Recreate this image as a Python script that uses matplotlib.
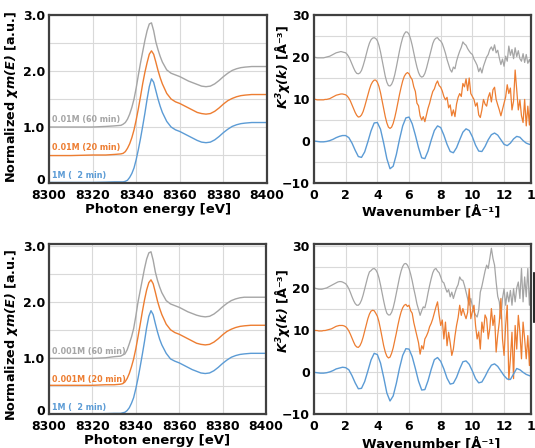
import numpy as np
import matplotlib
matplotlib.use("Agg")
import matplotlib.pyplot as plt
from matplotlib.lines import Line2D
from matplotlib.transforms import ScaledTranslation

plt.rcParams['font.family'] = ['DejaVu Sans']
plt.rcParams['font.weight'] = 'bold'
plt.rcParams['mathtext.fontset'] = 'dejavusans'

c_blue = '#5B9BD5'
c_orange = '#ED7D31'
c_gray = '#A5A5A5'

# XANES data (photon energy in eV)
energy = [8300, 8310, 8320, 8326, 8330,
          8333, 8334, 8335, 8336, 8337, 8338, 8339, 8340, 8341, 8342,
          8343, 8344, 8345, 8346, 8347, 8348, 8349, 8350, 8351, 8352,
          8354, 8356, 8358, 8360, 8362, 8364, 8366, 8368, 8370, 8372,
          8374, 8376, 8378, 8380, 8382, 8384, 8386, 8388, 8390, 8393, 8396, 8400]

xanes_top_blue = [0.01, 0.01, 0.01, 0.015, 0.02,
                  0.02, 0.02, 0.03, 0.05, 0.10, 0.17, 0.27, 0.42, 0.60, 0.80,
                  1.02, 1.25, 1.50, 1.72, 1.86, 1.80, 1.65, 1.50, 1.37, 1.26,
                  1.10, 1.00, 0.95, 0.92, 0.88, 0.84, 0.80, 0.76, 0.73, 0.72,
                  0.73, 0.77, 0.83, 0.90, 0.96, 1.01, 1.04, 1.06, 1.07, 1.08, 1.08, 1.08]
xanes_top_orange = [0.49, 0.49, 0.50, 0.50, 0.51,
                    0.52, 0.53, 0.56, 0.62, 0.70, 0.81, 0.95, 1.13, 1.33, 1.55,
                    1.78, 1.98, 2.15, 2.30, 2.36, 2.30, 2.16, 2.01, 1.88, 1.77,
                    1.60, 1.50, 1.45, 1.42, 1.38, 1.34, 1.30, 1.26, 1.24, 1.23,
                    1.24, 1.28, 1.34, 1.41, 1.47, 1.51, 1.54, 1.56, 1.57, 1.58, 1.58, 1.58]
xanes_top_gray = [1.00, 1.00, 1.00, 1.01, 1.02,
                  1.03, 1.05, 1.08, 1.14, 1.23, 1.35, 1.50, 1.70, 1.93, 2.15,
                  2.35, 2.55, 2.72, 2.84, 2.86, 2.72, 2.52, 2.38, 2.26, 2.16,
                  2.02, 1.96, 1.93, 1.90, 1.86, 1.82, 1.79, 1.76, 1.73, 1.72,
                  1.73, 1.77, 1.83, 1.90, 1.96, 2.01, 2.04, 2.06, 2.07, 2.08, 2.08, 2.08]

xanes_bot_blue = [0.01, 0.01, 0.01, 0.015, 0.02,
                  0.02, 0.03, 0.04, 0.07, 0.12, 0.20, 0.30, 0.46, 0.64, 0.85,
                  1.07, 1.30, 1.55, 1.75, 1.85, 1.78, 1.62, 1.47, 1.34, 1.24,
                  1.09, 0.99, 0.95, 0.92, 0.88, 0.84, 0.80, 0.77, 0.74, 0.73,
                  0.74, 0.78, 0.84, 0.91, 0.97, 1.02, 1.05, 1.07, 1.08, 1.09, 1.09, 1.09]
xanes_bot_orange = [0.52, 0.52, 0.52, 0.53, 0.53,
                    0.54, 0.55, 0.58, 0.64, 0.73, 0.85, 0.99, 1.17, 1.38, 1.60,
                    1.83, 2.04, 2.22, 2.35, 2.40, 2.33, 2.18, 2.02, 1.89, 1.78,
                    1.61, 1.51, 1.46, 1.43, 1.39, 1.35, 1.31, 1.27, 1.25, 1.24,
                    1.25, 1.29, 1.35, 1.42, 1.48, 1.52, 1.55, 1.57, 1.58, 1.59, 1.59, 1.59]
xanes_bot_gray = [1.00, 1.00, 1.00, 1.01, 1.03,
                  1.04, 1.06, 1.08, 1.15, 1.26, 1.38, 1.53, 1.75, 2.00, 2.20,
                  2.40, 2.60, 2.77, 2.88, 2.90, 2.75, 2.54, 2.39, 2.27, 2.17,
                  2.03, 1.97, 1.94, 1.91, 1.87, 1.83, 1.80, 1.77, 1.75, 1.74,
                  1.75, 1.79, 1.85, 1.92, 1.98, 2.03, 2.06, 2.08, 2.09, 2.09, 2.09, 2.09]

labels_top = ['0.01M (60 min)', '0.01M (20 min)', '1M (  2 min)']
labels_bot = ['0.001M (60 min)', '0.001M (20 min)', '1M (  2 min)']

# EXAFS data, k in 1/Angstrom
k_smooth = np.round(np.arange(0, 13.81, 0.2), 1)
k_fine = np.round(np.arange(0, 13.81, 0.1), 1)

exafs_top_blue = [0.0, -0.1, -0.2, -0.2, -0.1, 0.1, 0.4, 0.8, 1.1, 1.3,
                  1.3, 0.8, -0.5, -2.2, -3.7, -3.9, -2.6, -0.2, 2.4, 4.3,
                  4.4, 2.8, -0.5, -4.2, -6.6, -6.0, -3.2, 0.4, 3.6, 5.5,
                  5.7, 4.1, 1.4, -1.6, -4.0, -4.2, -2.4, 0.2, 2.5, 3.6,
                  3.2, 1.4, -0.8, -2.5, -2.8, -1.6, 0.3, 2.1, 2.9, 2.5,
                  1.0, -1.0, -2.4, -2.5, -1.3, 0.3, 1.5, 1.9, 1.4, 0.3,
                  -0.8, -1.1, -0.5, 0.5, 1.1, 0.9, 0.1, -0.5, -0.8, -0.8]
exafs_top_orange = [10.0, 9.9, 9.8, 9.8, 9.8, 9.8, 9.8, 9.9, 9.9, 10.0,
                    10.1, 10.3, 10.5, 10.7, 10.9, 11.0, 11.1, 11.2, 11.2, 11.1,
                    11.0, 10.7, 10.2, 9.5, 8.6, 7.7, 6.8, 6.1, 5.7, 5.8,
                    6.2, 7.0, 8.2, 9.6, 11.0, 12.3, 13.4, 14.1, 14.5, 14.5,
                    14.0, 13.0, 11.5, 9.6, 7.6, 5.8, 4.3, 3.3, 3.0, 3.3,
                    4.2, 5.6, 7.3, 9.2, 11.1, 12.8, 14.3, 15.4, 16.0, 16.3,
                    16.0, 15.2, 14.6, 12.9, 11.8, 9.0, 8.4, 6.0, 5.0, 5.8,
                    4.6, 6.2, 7.8, 9.0, 10.5, 11.8, 12.4, 13.6, 14.3, 13.2,
                    12.8, 11.9, 10.6, 9.8, 10.4, 7.9, 8.6, 6.0, 7.4, 5.8,
                    8.8, 10.4, 11.3, 10.6, 13.7, 12.9, 14.8, 12.0, 15.0, 11.3,
                    10.6, 9.9, 8.3, 9.1, 6.2, 5.6, 7.4, 9.9, 8.8, 8.3,
                    10.4, 11.5, 9.3, 12.2, 12.8, 9.9, 8.6, 7.4, 6.0, 7.5,
                    9.0, 10.5, 13.4, 11.3, 12.6, 7.4, 9.5, 16.9, 12.0, 7.4,
                    9.8, 6.0, 4.4, 9.9, 3.6, 8.3, 3.8, 12.0, 15.0]
exafs_top_gray = [20.0, 19.9, 19.8, 19.8, 19.8, 19.8, 19.8, 19.9, 20.0, 20.1,
                  20.2, 20.4, 20.6, 20.8, 21.0, 21.1, 21.2, 21.3, 21.2, 21.1,
                  21.0, 20.6, 20.0, 19.2, 18.3, 17.4, 16.6, 16.1, 16.0, 16.2,
                  16.8, 17.9, 19.2, 20.7, 22.1, 23.3, 24.1, 24.5, 24.6, 24.4,
                  23.9, 22.8, 21.2, 19.3, 17.3, 15.4, 14.0, 13.2, 13.1, 13.5,
                  14.4, 15.8, 17.6, 19.6, 21.5, 23.2, 24.6, 25.5, 26.0, 25.9,
                  25.4, 24.3, 22.8, 21.0, 19.2, 17.6, 16.3, 15.5, 15.2, 15.4,
                  16.1, 17.3, 18.8, 20.4, 21.9, 23.2, 24.1, 24.5, 24.6, 24.1,
                  23.8, 23.2, 22.1, 20.9, 19.4, 18.2, 17.0, 16.4, 17.6, 17.2,
                  19.0, 20.3, 21.4, 22.3, 23.6, 23.1, 22.8, 22.0, 21.4, 20.9,
                  20.6, 19.5, 18.8, 18.0, 16.5, 17.4, 16.2, 17.8, 18.9, 20.0,
                  20.6, 21.8, 22.4, 21.5, 22.9, 21.0, 21.6, 19.8, 18.2, 19.5,
                  17.8, 20.2, 19.0, 22.6, 20.4, 21.8, 19.6, 22.2, 20.1, 21.5,
                  19.6, 19.0, 20.8, 18.7, 20.6, 18.5, 19.4, 18.3, 18.8]

exafs_bot_blue = [0.0, -0.1, -0.2, -0.2, -0.1, 0.1, 0.4, 0.8, 1.0, 1.2,
                  1.1, 0.6, -0.8, -2.5, -3.9, -3.8, -2.2, 0.3, 2.9, 4.5,
                  4.2, 2.2, -1.2, -4.9, -6.8, -5.6, -2.6, 1.0, 4.0, 5.6,
                  5.5, 3.7, 0.9, -2.1, -4.2, -4.1, -2.0, 0.7, 3.0, 3.5,
                  2.6, 0.8, -1.4, -2.8, -2.6, -1.2, 0.8, 2.5, 2.7, 1.9,
                  0.3, -1.5, -2.5, -2.3, -1.0, 0.5, 1.7, 2.0, 1.4, 0.3,
                  -0.8, -1.6, -1.7, -0.4, 0.9, 0.6, 0.0, -0.5, -0.8, -1.0]
exafs_bot_orange = [10.0, 9.9, 9.9, 9.8, 9.8, 9.8, 9.9, 9.9, 10.0, 10.1,
                    10.2, 10.3, 10.5, 10.7, 10.9, 11.0, 11.1, 11.1, 11.1, 11.0,
                    10.8, 10.4, 9.8, 9.0, 8.1, 7.2, 6.4, 6.0, 5.9, 6.3,
                    7.1, 8.3, 9.8, 11.3, 12.7, 13.8, 14.5, 14.7, 14.6, 14.0,
                    13.3, 12.0, 10.2, 8.2, 6.3, 4.8, 3.8, 3.4, 3.6, 4.5,
                    5.8, 7.5, 9.3, 11.2, 12.9, 14.3, 15.3, 15.9, 16.1, 15.6,
                    15.9, 14.6, 14.0, 11.8, 10.2, 8.7, 7.0, 4.3, 6.3, 5.5,
                    7.9, 8.6, 9.5, 10.8, 11.6, 12.7, 14.1, 15.5, 16.7, 13.5,
                    11.1, 12.4, 7.9, 11.9, 6.3, 9.5, 7.0, 4.0, 5.5, 8.6,
                    11.1, 13.0, 15.9, 13.5, 15.1, 13.8, 12.7, 14.2, 19.8, 12.7,
                    14.4, 15.9, 11.1, 7.9, 9.6, 5.5, 11.9, 9.5, 13.6, 12.7,
                    7.9, 10.4, 15.1, 11.1, 13.5, 4.8, 8.8, 11.9, 17.5, 7.9,
                    4.0, 11.1, 15.9, -1.8, 3.2, 9.5, -1.5, 11.1, 5.5, 13.5,
                    9.5, 3.2, 11.9, 7.9, 3.2, 8.7, 1.6, 11.1, 18.3]
exafs_bot_gray = [20.0, 19.9, 19.8, 19.7, 19.7, 19.7, 19.8, 19.9, 20.0, 20.2,
                  20.4, 20.6, 20.8, 21.0, 21.2, 21.4, 21.5, 21.5, 21.4, 21.2,
                  21.0, 20.5, 19.8, 18.9, 17.9, 17.0, 16.3, 15.9, 15.9, 16.3,
                  17.1, 18.3, 19.8, 21.3, 22.7, 23.8, 24.1, 24.5, 24.6, 24.3,
                  23.6, 22.4, 20.7, 18.8, 16.9, 15.2, 14.0, 13.6, 13.6, 14.2,
                  15.3, 16.9, 18.8, 20.7, 22.5, 24.0, 25.1, 25.7, 25.8, 25.4,
                  24.6, 23.3, 21.7, 19.8, 18.1, 16.2, 14.9, 13.5, 14.6, 15.5,
                  15.3, 16.8, 18.8, 20.6, 22.2, 23.6, 24.4, 24.6, 24.0, 23.6,
                  22.6, 21.5, 21.2, 20.0, 19.0, 19.6, 17.9, 19.0, 17.5, 18.8,
                  20.0, 20.8, 22.6, 21.9, 21.8, 20.6, 19.0, 17.3, 15.9, 17.5,
                  15.6, 14.3, 13.6, 13.1, 14.7, 19.0, 20.4, 22.2, 24.0, 25.4,
                  24.6, 27.0, 29.4, 27.0, 25.4, 21.4, 18.0, 16.7, 12.7, 17.5,
                  19.8, 15.9, 19.0, 16.7, 19.4, 15.9, 19.8, 16.7, 20.0, 21.4,
                  17.5, 24.6, 16.7, 22.6, 17.9, 24.6, 15.9, 22.0, 19.0]


def style_axes(ax):
    for s in ax.spines.values():
        s.set_color('#404040')
        s.set_linewidth(1.6)
    ax.tick_params(which='both', length=0, labelsize=9)
    ax.tick_params(axis='x', pad=4)
    ax.tick_params(axis='y', pad=3)
    ax.grid(True, which='both', color='#D9D9D9', linewidth=0.8)
    ax.set_axisbelow(True)
    for lab in ax.get_xticklabels() + ax.get_yticklabels():
        lab.set_fontweight('bold')


def xanes_panel(ax, blue, orange, gray, labels, ylim, ytxt):
    ax.plot(energy, gray, color=c_gray, lw=1.0)
    ax.plot(energy, orange, color=c_orange, lw=1.0)
    ax.plot(energy, blue, color=c_blue, lw=1.0)
    ax.set_xlim(8300, 8400)
    ax.set_ylim(*ylim)
    ax.set_xticks(np.arange(8300, 8401, 20))
    ax.set_yticks([0, 1, 2, 3])
    ax.set_yticklabels(['0', '1.0', '2.0', '3.0'])
    ax.set_yticks([0.5, 1.5, 2.5], minor=True)
    style_axes(ax)
    # the "0" label sits a little above the bottom spine
    lab0 = ax.yaxis.get_major_ticks()[0].label1
    lab0.set_transform(lab0.get_transform() + ScaledTranslation(0, 3 / 72, fig.dpi_scale_trans))
    ax.set_xlabel('Photon energy [eV]', fontsize=9.5, fontweight='bold', labelpad=1)
    ax.set_ylabel(r'Normalized $\mathbfit{\chi m(E)}$ [a.u.]', fontsize=9.2,
                  fontweight='bold')
    ax.yaxis.set_label_coords(-0.135, ytxt)
    for txt, col, yy in zip(labels, [c_gray, c_orange, c_blue], [1.13, 0.63, 0.13]):
        ax.text(8301.5, yy, txt, color=col, fontsize=5.8, fontweight='bold', va='center')


def exafs_panel(ax, blue, orange, gray, ylim, ytxt):
    ax.plot(k_fine, gray, color=c_gray, lw=0.9)
    ax.plot(k_fine, orange, color=c_orange, lw=0.9)
    ax.plot(k_smooth, blue, color=c_blue, lw=1.0)
    ax.set_xlim(0, 13.7)
    ax.set_ylim(*ylim)
    ax.set_xticks(np.arange(0, 13, 2))
    ax.set_yticks([-10, 0, 10, 20, 30])
    ax.set_yticks([-5, 5, 15, 25], minor=True)
    style_axes(ax)
    ax.text(14, -0.035, '14', transform=ax.get_xaxis_transform(), ha='center', va='top',
            fontsize=9, fontweight='bold', clip_on=False)
    ax.set_xlabel('Wavenumber [Å⁻¹]', fontsize=9.5, fontweight='bold', labelpad=1)
    ax.xaxis.set_label_coords(0.54, -0.13)
    ax.set_ylabel(r'$\mathbfit{K^3\chi(k)}$ [Å⁻³]', fontsize=9.2, fontweight='bold')
    ax.yaxis.set_label_coords(-0.1, ytxt)


fig = plt.figure(figsize=(5.35, 4.48), dpi=100)
ax_tl = fig.add_axes([0.0916, 0.5915, 0.4075, 0.375])
ax_tr = fig.add_axes([0.5869, 0.5915, 0.4056, 0.375])
ax_bl = fig.add_axes([0.0916, 0.0748, 0.4056, 0.3795])
ax_br = fig.add_axes([0.5869, 0.0748, 0.4056, 0.3795])

xanes_panel(ax_tl, xanes_top_blue, xanes_top_orange, xanes_top_gray, labels_top, (0, 3.0), 0.51)
xanes_panel(ax_bl, xanes_bot_blue, xanes_bot_orange, xanes_bot_gray, labels_bot, (0, 3.03), 0.47)
exafs_panel(ax_tr, exafs_top_blue, exafs_top_orange, exafs_top_gray, (-10, 30), 0.69)
exafs_panel(ax_br, exafs_bot_blue, exafs_bot_orange, exafs_bot_gray, (-9.8, 30.3), 0.61)

# small stray mark at the right border
fig.add_artist(Line2D([534.3 / 535, 534.3 / 535], [1 - 273 / 448, 1 - 322 / 448],
                      color='black', lw=1.2))

fig.savefig('out.png', dpi=100)
